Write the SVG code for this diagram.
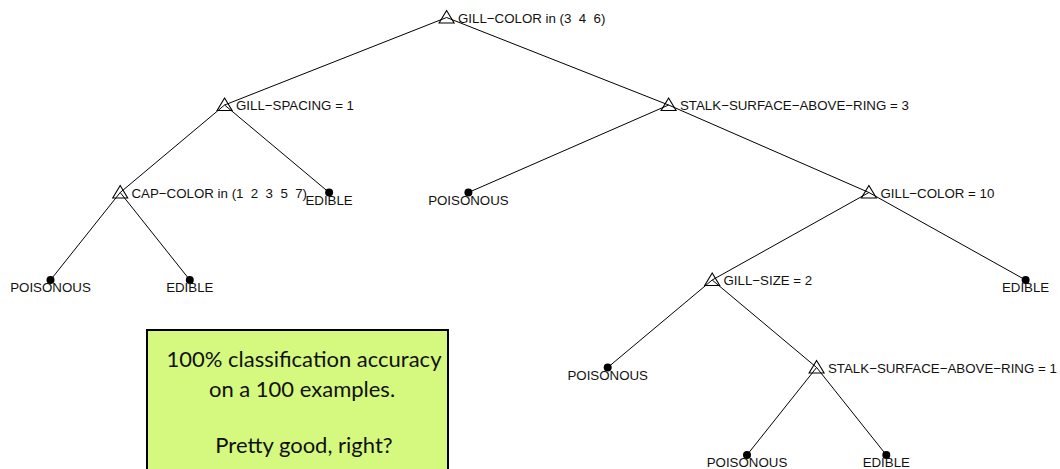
<svg xmlns="http://www.w3.org/2000/svg" width="1060" height="469" viewBox="0 0 1060 469">
  <style>
    .edge { stroke: #000; stroke-width: 1; fill: none; }
    .split { stroke: #000; stroke-width: 1.1; fill: none; }
    .leaf { fill: #000; }
    .lbl { font-family: "Liberation Sans", Arial, sans-serif; font-size: 13.3px; fill: #111; white-space: pre; }
    .leaflbl { font-family: "Liberation Sans", Arial, sans-serif; font-size: 13.3px; fill: #111; text-anchor: middle; }
    .note { fill: #d5f97e; stroke: #000; stroke-width: 2; }
    .notetxt { font-family: Lato, "Open Sans", sans-serif; font-size: 22px; fill: #111; text-anchor: middle; }
  </style>
  <defs>
    <!-- open triangle marking a split, centred on the node point -->
    <path id="tri" d="M0,-7 L-7.5,5.5 L7.5,5.5 Z"/>
  </defs>

  <rect width="1060" height="469" fill="#fff"/>

  <!-- branches -->
  <g id="connectors" class="edge">
    <line x1="446.6" y1="17.5" x2="224.6" y2="105"/>
    <line x1="446.6" y1="17.5" x2="668.6" y2="105"/>
    <line x1="224.6" y1="105" x2="120.2" y2="192.5"/>
    <line x1="224.6" y1="105" x2="329.1" y2="192.5"/>
    <line x1="120.2" y1="192.5" x2="50.5" y2="280"/>
    <line x1="120.2" y1="192.5" x2="189.8" y2="280"/>
    <line x1="668.6" y1="105" x2="468.4" y2="192.5"/>
    <line x1="668.6" y1="105" x2="868.9" y2="192.5"/>
    <line x1="868.9" y1="192.5" x2="712.2" y2="280"/>
    <line x1="868.9" y1="192.5" x2="1025.6" y2="280"/>
    <line x1="712.2" y1="280" x2="607.7" y2="367.5"/>
    <line x1="712.2" y1="280" x2="816.6" y2="367.5"/>
    <line x1="816.6" y1="367.5" x2="747" y2="455"/>
    <line x1="816.6" y1="367.5" x2="886.3" y2="455"/>
  </g>

  <!-- splits -->
  <g id="n-root">
    <use href="#tri" class="split" x="446.6" y="17.5"/>
    <text class="lbl" x="458" y="22.5">GILL−COLOR in (3  4  6)</text>
  </g>
  <g id="n-gill-spacing">
    <use href="#tri" class="split" x="224.6" y="105"/>
    <text class="lbl" x="236" y="110">GILL−SPACING = 1</text>
  </g>
  <g id="n-stalk-3">
    <use href="#tri" class="split" x="668.6" y="105"/>
    <text class="lbl" x="680" y="110">STALK−SURFACE−ABOVE−RING = 3</text>
  </g>
  <g id="n-cap-color">
    <use href="#tri" class="split" x="120.2" y="192.5"/>
    <text class="lbl" x="131.5" y="197.5">CAP−COLOR in (1  2  3  5  7)</text>
  </g>
  <g id="n-gill-color-10">
    <use href="#tri" class="split" x="868.9" y="192.5"/>
    <text class="lbl" x="880.5" y="197.5">GILL−COLOR = 10</text>
  </g>
  <g id="n-gill-size">
    <use href="#tri" class="split" x="712.2" y="280"/>
    <text class="lbl" x="723.5" y="285">GILL−SIZE = 2</text>
  </g>
  <g id="n-stalk-1">
    <use href="#tri" class="split" x="816.6" y="367.5"/>
    <text class="lbl" x="828" y="372.5">STALK−SURFACE−ABOVE−RING = 1</text>
  </g>

  <!-- leaves -->
  <g id="leaf-1">
    <circle class="leaf" cx="50.5" cy="280" r="4"/>
    <text class="leaflbl" x="50.5" y="292">POISONOUS</text>
  </g>
  <g id="leaf-2">
    <circle class="leaf" cx="189.8" cy="280" r="4"/>
    <text class="leaflbl" x="189.8" y="292">EDIBLE</text>
  </g>
  <g id="leaf-3">
    <circle class="leaf" cx="329.1" cy="192.5" r="4"/>
    <text class="leaflbl" x="329.1" y="204.5">EDIBLE</text>
  </g>
  <g id="leaf-4">
    <circle class="leaf" cx="468.4" cy="192.5" r="4"/>
    <text class="leaflbl" x="468.4" y="204.5">POISONOUS</text>
  </g>
  <g id="leaf-5">
    <circle class="leaf" cx="607.7" cy="367.5" r="4"/>
    <text class="leaflbl" x="607.7" y="379.5">POISONOUS</text>
  </g>
  <g id="leaf-6">
    <circle class="leaf" cx="747" cy="455" r="4"/>
    <text class="leaflbl" x="747" y="467">POISONOUS</text>
  </g>
  <g id="leaf-7">
    <circle class="leaf" cx="886.3" cy="455" r="4"/>
    <text class="leaflbl" x="886.3" y="467">EDIBLE</text>
  </g>
  <g id="leaf-8">
    <circle class="leaf" cx="1025.6" cy="280" r="4"/>
    <text class="leaflbl" x="1025.6" y="292">EDIBLE</text>
  </g>

  <!-- callout -->
  <g id="note">
    <rect class="note" x="147" y="330" width="301" height="150"/>
    <text class="notetxt" x="304" y="367">100% classification accuracy</text>
    <text class="notetxt" x="302" y="397">on a 100 examples.</text>
    <text class="notetxt" x="304" y="453">Pretty good, right?</text>
  </g>
</svg>
